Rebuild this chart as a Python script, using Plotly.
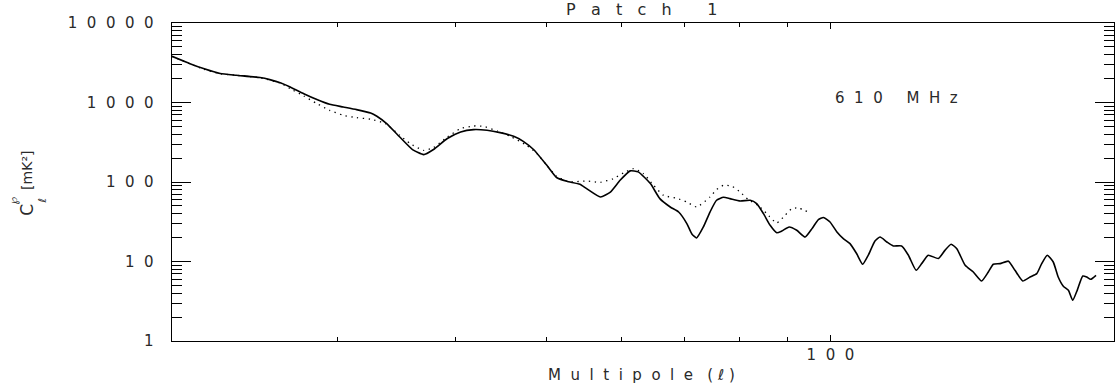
import plotly.graph_objects as go

# ---- data (multipole ell, C_ell in mK^2) ----
ell_solid = [20.0, 20.9, 21.6, 22.5, 23.4, 24.8, 25.4, 26.1, 26.7, 27.6, 28.5, 29.4, 30.4, 31.4,
             32.5, 33.0, 33.8, 34.9, 36.0, 37.0, 37.9, 39.2, 40.5, 41.8, 43.2, 44.6, 46.1, 47.2,
             48.4, 50.0, 51.2, 52.5, 54.2, 55.1, 57.0, 58.4, 59.8, 61.3, 62.5, 64.4, 65.9, 67.6,
             69.0, 70.4, 71.3, 72.1, 73.3, 74.5, 75.7, 77.0, 78.2, 80.2, 82.2, 83.5, 84.9, 86.3,
             87.7, 88.8, 90.4, 92.1, 94.0, 95.6, 97.1, 98.3, 99.9, 101.6, 103.2, 104.9, 106.6,
             108.2, 109.7, 111.5, 112.9, 114.8, 116.6, 119.0, 121.0, 123.3, 125.0, 127.0, 130.2,
             132.3, 134.3, 136.2, 139.0, 141.8, 144.7, 147.1, 148.9, 151.4, 154.5, 157.0, 160.0,
             162.9, 165.6, 167.6, 169.9, 172.4, 174.5, 176.7, 178.9, 180.8, 182.8, 185.3, 187.1,
             188.9, 191.4]
cl_solid = [3810, 3080, 2670, 2310, 2200, 2060, 1940, 1760, 1570, 1290, 1090, 949, 878, 814,
            738, 671, 543, 368, 256, 221, 256, 352, 426, 456, 447, 418, 376, 325,
            256, 162, 114, 102, 93.6, 82.6, 64.8, 74.8, 105, 138, 134, 95.5, 61.8, 48.5,
            41.9, 30.0, 22.0, 19.8, 27.2, 41.9, 58.9, 64.2, 61.8, 57.7, 58.9, 53.5, 40.0, 28.5,
            23.0, 24.2, 27.2, 24.7, 20.3, 25.9, 33.7, 35.7, 31.4, 23.5, 19.4, 16.8, 12.6,
            9.22, 12.0, 18.1, 20.3, 17.6, 15.7, 15.7, 12.0, 7.75, 9.41, 12.0, 10.9,
            13.8, 16.5, 14.5, 8.96, 7.38, 5.68, 7.38, 9.22, 9.41, 10.1, 7.75, 5.68,
            6.38, 7.04, 9.41, 12.0, 9.86, 6.38, 4.88, 4.34, 3.25, 4.34, 6.57, 6.38,
            5.97, 6.71]

ell_dotted = [20.0, 20.9, 21.6, 22.5, 23.4, 24.8, 26.1, 26.7, 27.6, 28.5, 29.4, 30.4, 31.4,
              32.5, 33.7, 34.9, 35.8, 37.0, 37.9, 39.2, 40.5, 41.8, 42.8, 44.3, 45.7, 47.6,
              48.8, 50.0, 51.2, 52.5, 52.9, 55.1, 57.0, 58.8, 60.3, 61.8, 63.3, 64.9, 66.5,
              68.7, 70.4, 72.1, 74.5, 75.7, 77.0, 78.6, 80.2, 81.8, 83.8, 85.6, 87.7, 89.5,
              91.0, 92.5, 94.7]
cl_dotted = [3810, 3060, 2630, 2300, 2200, 2045, 1744, 1495, 1207, 969, 798, 690, 646,
             615, 543, 387, 304, 250, 271, 368, 470, 506, 502, 438, 376, 289,
             228, 162, 118, 103, 100, 103, 99.1, 110, 130, 147, 128, 90.9, 68.0,
             62.4, 56.0, 48.5, 64.8, 80.3, 90.9, 88.3, 74.8, 60.1, 50.9, 40.0, 30.5, 38.1,
             46.3, 47.1, 41.9]

y_major = [1, 10, 100, 1000, 10000]
y_labels = ["1", "10", "100", "1000", "10000"]
y_minor = [m * 10 ** d for d in range(4) for m in range(2, 10)]
x_major = [100]
x_labels = ["100"]
x_minor = [20, 30, 40, 50, 60, 70, 80, 90, 200]

title_text = "Patch 1"
xtitle_text = "Multipole"
freq_text = "610 MHz"

SEP = "\u00a0\u00a0"


def spaced(s, sep=SEP):
    return sep.join(s)


FONT = "DejaVu Sans"
TXT = "#2a2a2a"

fig = go.Figure()
fig.add_trace(go.Scatter(x=ell_dotted, y=cl_dotted, mode="lines",
                         line=dict(color="black", width=1.3, dash="1.3px,4.5px", shape="spline", smoothing=0.5),
                         showlegend=False, hoverinfo="skip"))
fig.add_trace(go.Scatter(x=ell_solid, y=cl_solid, mode="lines",
                         line=dict(color="black", width=1.6, shape="spline", smoothing=0.5),
                         showlegend=False, hoverinfo="skip"))

fig.update_layout(
    width=1117, height=391,
    margin=dict(l=172, r=3, t=23, b=50),
    paper_bgcolor="white", plot_bgcolor="white",
    font=dict(family=FONT, size=14, color=TXT),
    xaxis=dict(type="log", range=[1.30103, 2.30103],
               showline=True, linecolor="black", linewidth=1.2, mirror="ticks",
               showgrid=False, zeroline=False,
               ticks="inside", ticklen=6, tickwidth=1, tickcolor="black",
               tickmode="array", tickvals=x_major, ticktext=[spaced(t) for t in x_labels],
               tickfont=dict(family=FONT, size=15, color=TXT),
               minor=dict(ticks="inside", ticklen=4, tickwidth=1, tickcolor="black",
                          tickmode="array", tickvals=x_minor, showgrid=False)),
    yaxis=dict(type="log", range=[0, 4],
               showline=True, linecolor="black", linewidth=1.2, mirror="ticks",
               showgrid=False, zeroline=False,
               ticks="inside", ticklen=19, tickwidth=1, tickcolor="black",
               tickmode="array", tickvals=y_major,
               ticktext=[spaced(t) + "\u00a0\u00a0\u00a0" for t in y_labels],
               tickfont=dict(family=FONT, size=15, color=TXT),
               minor=dict(ticks="inside", ticklen=10, tickwidth=1, tickcolor="black",
                          tickmode="array", tickvals=y_minor, showgrid=False)),
)

fig.add_annotation(xref="paper", yref="paper", x=0.4985, y=1.043, xanchor="center", yanchor="middle",
                   text=spaced(title_text, "\u00a0\u00a0\u00a0"), showarrow=False,
                   font=dict(family=FONT, size=16, color=TXT))
fig.add_annotation(xref="paper", yref="paper", x=0.4986, y=-0.108, xanchor="center", yanchor="middle",
                   text=spaced(xtitle_text, "\u00a0\u00a0") + "\u00a0\u00a0\u00a0(\u00a0<i>ℓ</i>\u00a0)",
                   showarrow=False, font=dict(family=FONT, size=15, color=TXT))
fig.add_annotation(xref="paper", yref="paper", x=0.7014, y=0.763, xanchor="left", yanchor="middle",
                   text=spaced(freq_text), showarrow=False,
                   font=dict(family=FONT, size=15, color=TXT))

# y-axis title  C_ell^P [mK^2], built from rotated pieces
ytitle_parts = [
    ("C", -0.1539, 0.4126, 17),
    ("<i>ℓ</i>", -0.1380, 0.4420, 11),
    ("℘", -0.1680, 0.4420, 11),
    ("[mK²]", -0.1539, 0.5350, 14),
]
for txt, px, py, fs in ytitle_parts:
    fig.add_annotation(xref="paper", yref="paper", x=px, y=py, xanchor="center", yanchor="middle",
                       textangle=-90, text=txt, showarrow=False,
                       font=dict(family=FONT, size=fs, color=TXT))

fig.write_html("out.html")
